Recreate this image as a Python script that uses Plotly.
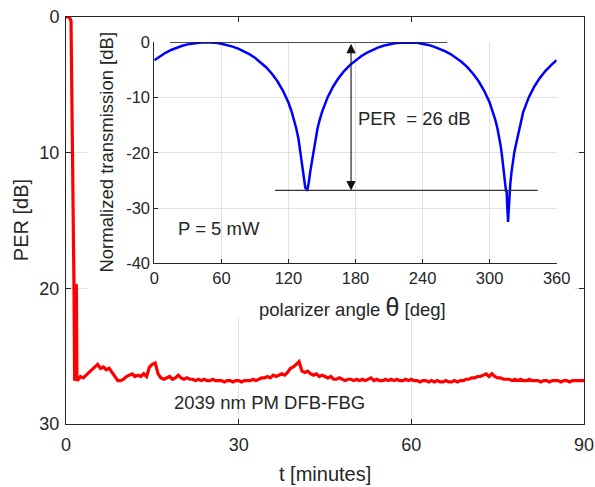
import plotly.graph_objects as go

# ---------------- main curve: PER vs time ----------------
t_start = [0.0, 0.3, 0.6, 0.87, 1.0, 1.16, 1.28, 1.39, 1.5, 1.6, 1.7, 1.8, 1.9]
per_start = [0.0, 0.0, 0.0, 0.3, 4.5, 10.0, 15.0, 20.0, 26.8, 26.6, 19.7, 19.8, 26.7]

# PER readings every 0.5 min from t = 2.0 to 90.0
per_base = [
    26.8, 26.5, 26.6, 26.4, 26.2, 26.0, 25.8, 25.6, 25.9, 25.8,
    26.0, 25.9, 26.2, 26.5, 26.8, 26.8, 26.7, 26.5, 26.4, 26.3,
    26.5, 26.4, 26.5, 26.3, 26.5, 25.8, 25.6, 25.5, 26.3, 26.6,
    26.7, 26.6, 26.5, 26.7, 26.6, 26.4, 26.6, 26.7, 26.6, 26.7,
    26.7, 26.8, 26.7, 26.8, 26.7, 26.8, 26.8, 26.7, 26.8, 26.8,
    26.8, 26.9, 26.8, 26.8, 26.9, 26.8, 26.8, 26.9, 26.8, 26.8,
    26.8, 26.7, 26.8, 26.7, 26.6, 26.6, 26.5, 26.6, 26.4, 26.5,
    26.4, 26.3, 26.4, 26.2, 25.9, 25.8, 25.6, 25.4, 26.1, 26.2,
    26.1, 26.3, 26.4, 26.3, 26.5, 26.4, 26.5, 26.6, 26.5, 26.7,
    26.7, 26.6, 26.7, 26.8, 26.7, 26.7, 26.8, 26.7, 26.8, 26.7,
    26.8, 26.7, 26.6, 26.8, 26.7, 26.8, 26.8, 26.7, 26.8, 26.7,
    26.8, 26.7, 26.8, 26.8, 26.7, 26.8, 26.7, 26.8, 26.8, 26.9,
    26.8, 26.8, 26.9, 26.8, 26.9, 26.8, 26.9, 26.9, 26.8, 26.9,
    26.9, 26.8, 26.9, 26.8, 26.8, 26.7, 26.7, 26.6, 26.6, 26.5,
    26.5, 26.4, 26.3, 26.5, 26.3, 26.5, 26.6, 26.6, 26.7, 26.7,
    26.7, 26.8, 26.7, 26.8, 26.7, 26.8, 26.8, 26.7, 26.8, 26.8,
    26.8, 26.9, 26.8, 26.8, 26.9, 26.8, 26.8, 26.8, 26.9, 26.8,
    26.8, 26.9, 26.8, 26.8, 26.8, 26.8, 26.8,
]
t_base = [2.0 + 0.5 * i for i in range(len(per_base))]

t_all = t_start + t_base
per_all = per_start + per_base

# ---------------- inset: normalized transmission vs polarizer angle ----------------
theta = [
    0, 5, 10, 15, 20, 25, 30, 35, 40, 45, 50, 55, 60, 65, 70, 75, 80, 85, 90, 95,
    100, 105, 110, 115, 120, 123, 125, 127, 129, 130, 131, 132, 133, 134, 135,
    135.8, 136.3, 136.8, 137.5, 138.3, 139.5, 141, 142, 143, 144, 146, 148, 150, 155,
    160, 165, 170, 175, 180, 185, 190, 195, 200, 205, 210, 215, 220, 225, 230,
    235, 240, 245, 250, 255, 260, 265, 270, 275, 280, 285, 290, 295, 300, 303,
    305, 307, 309, 310, 311, 312, 313, 314, 314.7, 315.2, 315.7, 316.1, 316.5,
    317.0, 317.6, 318.5, 319.5, 320.5, 322, 323, 324.5, 326, 328, 330, 335, 340, 345,
    350, 355, 360,
]
trans_db = [
    -3.24, -2.51, -1.90, -1.39, -0.96, -0.63, -0.37, -0.18, -0.06, -0.003, -0.016,
    -0.096, -0.245, -0.47, -0.77, -1.14, -1.60, -2.13, -2.79, -3.57,
    -4.50, -5.64, -7.00, -8.72, -10.90, -12.64, -14.0, -15.6, -17.5, -18.9, -20.4,
    -22.1, -24.0, -25.2, -26.2,
    -26.6, -26.2, -26.9, -26.3, -25.2, -23.4, -21.4, -20.4, -18.9, -17.5, -15.6,
    -14.0, -12.64, -9.97,
    -7.99, -6.43, -5.16, -4.12, -3.24, -2.51, -1.90, -1.39, -0.96, -0.63, -0.37,
    -0.18, -0.06, -0.003, -0.016,
    -0.096, -0.245, -0.47, -0.77, -1.14, -1.60, -2.13, -2.79, -3.57, -4.50, -5.64,
    -7.00, -8.72, -10.90, -12.64,
    -14.0, -15.6, -17.5, -18.9, -20.4, -22.1, -24.0, -25.9, -27.0, -26.9, -29.5,
    -31.5, -32.5,
    -30.5, -28.0, -25.6, -23.6, -21.9, -20.0, -19.0, -17.5, -16.0, -14.2, -12.64,
    -9.97, -7.99, -6.43,
    -5.16, -4.12, -3.24,
]

# PER marker lines (inset data units)
top_line_theta = [14, 262]
top_line_db = 0
bottom_line_theta = [108, 343]
bottom_line_db = -26.8
arrow_theta = 176

main_xticks = [0, 30, 60, 90]
main_yticks = [0, 10, 20, 30]
inset_xticks = [0, 60, 120, 180, 240, 300, 360]
inset_yticks = [0, -10, -20, -30, -40]
inset_yticktext = ["0", "-10", "-20", "-30", "-40"]

FONT = "Liberation Sans, Arial, Helvetica, sans-serif"
TXT = "#262626"
GRID = "#e2e2e2"

fig = go.Figure()
fig.add_trace(go.Scatter(x=t_all, y=per_all, mode="lines",
                         line=dict(color="#ff0000", width=3.2), xaxis="x", yaxis="y",
                         showlegend=False, hoverinfo="skip"))
fig.add_trace(go.Scatter(x=theta, y=trans_db, mode="lines",
                         line=dict(color="#0000ff", width=2.5), xaxis="x2", yaxis="y2",
                         showlegend=False, hoverinfo="skip"))

axis_common = dict(showline=True, linecolor=TXT, linewidth=1, ticks="inside",
                   tickcolor=TXT, tickwidth=1, showgrid=True, gridcolor=GRID,
                   gridwidth=1, zeroline=False, automargin=False)

fig.update_layout(
    width=595, height=487,
    margin=dict(l=66, r=11, t=17, b=63),
    paper_bgcolor="white", plot_bgcolor="white",
    font=dict(family=FONT, color=TXT),
    xaxis=dict(range=[0, 90], tickvals=main_xticks, ticklen=5, mirror="ticks",
               tickfont=dict(size=18, color=TXT), ticklabelstandoff=4, **axis_common),
    yaxis=dict(range=[30, 0], tickvals=main_yticks, ticklen=5, mirror="ticks",
               tickfont=dict(size=18, color=TXT), ticklabelstandoff=2, **axis_common),
    xaxis2=dict(domain=[0.1705, 0.9473], anchor="y2", range=[0, 360],
                tickvals=inset_xticks, ticklen=4, mirror=False,
                tickfont=dict(size=16.5, color=TXT), **axis_common),
    yaxis2=dict(domain=[0.3946, 0.9378], anchor="x2", range=[-40, 0],
                tickvals=inset_yticks, ticktext=inset_yticktext, ticklen=4, mirror=False,
                tickfont=dict(size=16.5, color=TXT), **axis_common),
)

# white inset background covering main grid
fig.add_shape(type="rect", xref="x", yref="y", x0=3.65, x1=88.4, y0=0, y1=22.1,
              fillcolor="white", line=dict(width=0), layer="between")

# PER marker lines
fig.add_shape(type="line", xref="x2", yref="y2", x0=top_line_theta[0], x1=top_line_theta[1],
              y0=top_line_db, y1=top_line_db, line=dict(color="#111111", width=1.3))
fig.add_shape(type="line", xref="x2", yref="y2", x0=bottom_line_theta[0], x1=bottom_line_theta[1],
              y0=bottom_line_db, y1=bottom_line_db, line=dict(color="#333333", width=1.3))

ann = []
# double arrow
ann.append(dict(x=arrow_theta, y=bottom_line_db, ax=arrow_theta, ay=top_line_db,
                xref="x2", yref="y2", axref="x2", ayref="y2", text="", showarrow=True,
                arrowhead=2, startarrowhead=2, arrowside="end+start", arrowsize=1.7,
                startarrowsize=1.7, arrowwidth=1.1, arrowcolor="#111111",
                standoff=0, startstandoff=0))
ann.append(dict(x=180.4, y=-13.7, xref="x2", yref="y2", text="PER  = 26 dB",
                showarrow=False, xanchor="left", yanchor="middle",
                font=dict(size=18.5, color=TXT, family=FONT)))
ann.append(dict(x=57.6, y=-33.75, xref="x2", yref="y2", text="P = 5 mW",
                showarrow=False, xanchor="center", yanchor="middle",
                font=dict(size=18.5, color=TXT, family=FONT)))
ann.append(dict(x=35.4, y=28.45, xref="x", yref="y", text="2039 nm PM DFB-FBG",
                showarrow=False, xanchor="center", yanchor="middle",
                font=dict(size=18.5, color=TXT, family=FONT)))
# axis titles
ann.append(dict(x=-0.0875, y=0.5, xref="paper", yref="paper", text="PER [dB]",
                textangle=-90, showarrow=False, xanchor="center", yanchor="middle",
                font=dict(size=20, color=TXT, family=FONT)))
ann.append(dict(x=0.5, y=-0.123, xref="paper", yref="paper", text="t [minutes]",
                showarrow=False, xanchor="center", yanchor="middle",
                font=dict(size=20, color=TXT, family=FONT)))
ann.append(dict(x=0.0792, y=0.667, xref="paper", yref="paper",
                text="Normalized transmission [dB]", textangle=-90, showarrow=False,
                xanchor="center", yanchor="middle",
                font=dict(size=18.5, color=TXT, family=FONT)))
ann.append(dict(x=0.5531, y=0.2882, xref="paper", yref="paper",
                text="polarizer angle <span style='font-size:25px'>θ</span> [deg]",
                showarrow=False, xanchor="center", yanchor="middle",
                font=dict(size=18.5, color=TXT, family=FONT)))
fig.update_layout(annotations=ann)

fig.write_html("out.html", config={"displayModeBar": False},
               post_script="document.body.style.margin='0px';document.body.style.overflow='hidden';")
